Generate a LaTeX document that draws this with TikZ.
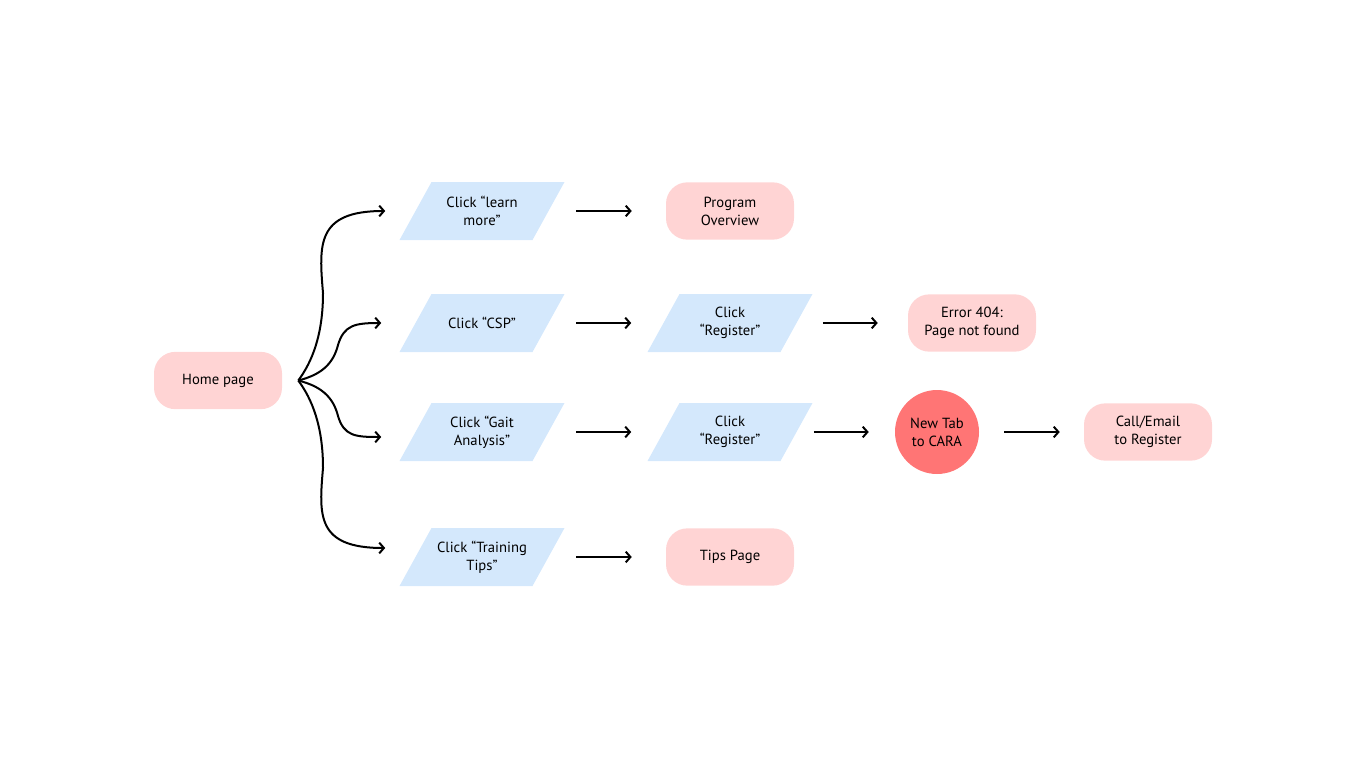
\documentclass[tikz,border=0pt]{standalone}
\usepackage{fontspec}
\setmainfont{PT Sans}
\usetikzlibrary{arrows.meta,calc}
\definecolor{pinkfill}{HTML}{FFD4D4}
\definecolor{bluefill}{HTML}{D4E8FC}
\definecolor{redfill}{HTML}{FF7575}
\newcommand\parabox[3]{%
  \fill[bluefill] ($(#2)+(-82.5,29)$) -- ($(#2)+(50.5,29)$) -- ($(#2)+(82.5,-29)$) -- ($(#2)+(-50.5,-29)$) -- cycle;
  \node[parab] (#1) at (#2) {#3};}
\begin{document}
\begin{tikzpicture}[x=0.75pt,y=-0.75pt,
 every node/.style={font=\fontsize{11}{13.5}\selectfont, align=center, text=black},
 pill/.style={rectangle, fill=pinkfill, rounded corners=16pt, minimum width=96pt, minimum height=43pt, inner sep=0pt},
 parab/.style={rectangle, minimum width=99.75pt, minimum height=43.5pt, inner sep=0pt},
 circ/.style={circle, fill=redfill, minimum size=63pt, inner sep=0pt},
 arr/.style={line width=1.5pt, -{Straight Barb[length=3.5pt,width=8pt]}},
]
\useasboundingbox (0,0) rectangle (1366,768);
\node[pill] (home) at (218,380.5) {Home page};
\parabox{learn}{482,211}{Click “learn\\more”}
\parabox{csp}{482,323}{Click “CSP”}
\parabox{gait}{482,432}{Click “Gait\\Analysis”}
\parabox{train}{482,557}{Click “Training\\Tips”}
\node[pill] (prog) at (730,211) {Program\\Overview};
\parabox{reg1}{730,323}{Click\\“Register”}
\parabox{reg2}{730,432}{Click\\“Register”}
\node[pill] (tips) at (730,557) {Tips Page};
\node[pill] (err) at (972,323) {Error 404:\\Page not found};
\node[circ] (cara) at (937,432) {New Tab\\to CARA};
\node[pill] (call) at (1148,432) {Call/Email\\to Register};

\coordinate (hub) at ($(home.east)+(16,0)$);
\coordinate (e1) at ($(learn.west)+(-30,0)$);
\coordinate (e2) at ($(csp.west)+(-34,0)$);
\coordinate (e3) at ($(gait.west)+(-34,5)$);
\coordinate (e4) at ($(train.west)+(-30,-9)$);

\draw[arr] (hub) .. controls (312,362) and (323,335) .. (323,293) .. controls (319,245) and (316,211) .. (e1);
\draw[arr] (hub) .. controls (320,375) and (333,365) .. (338,345) .. controls (344,325) and (355,323) .. (e2);
\draw[arr] (hub) .. controls (320,386) and (333,396) .. (338,416) .. controls (344,436) and (355,437) .. (e3);
\draw[arr] (hub) .. controls (312,399) and (323,426) .. (323,468) .. controls (319,515) and (316,548) .. (e4);

\draw[arr, shorten <=20.6pt, shorten >=25.5pt] (learn) -- (prog);
\draw[arr, shorten <=20.6pt, shorten >=24pt] (csp) -- (reg1);
\draw[arr, shorten <=20.6pt, shorten >=24pt] (gait) -- (reg2);
\draw[arr, shorten <=20.6pt, shorten >=25.5pt] (train) -- (tips);
\draw[arr, shorten <=19.5pt, shorten >=22.5pt] (reg1) -- (err);
\draw[arr, shorten <=12.75pt, shorten >=19.5pt] (reg2) -- (cara);
\draw[arr, shorten <=18.75pt, shorten >=18pt] (cara) -- (call);
\end{tikzpicture}
\end{document}
